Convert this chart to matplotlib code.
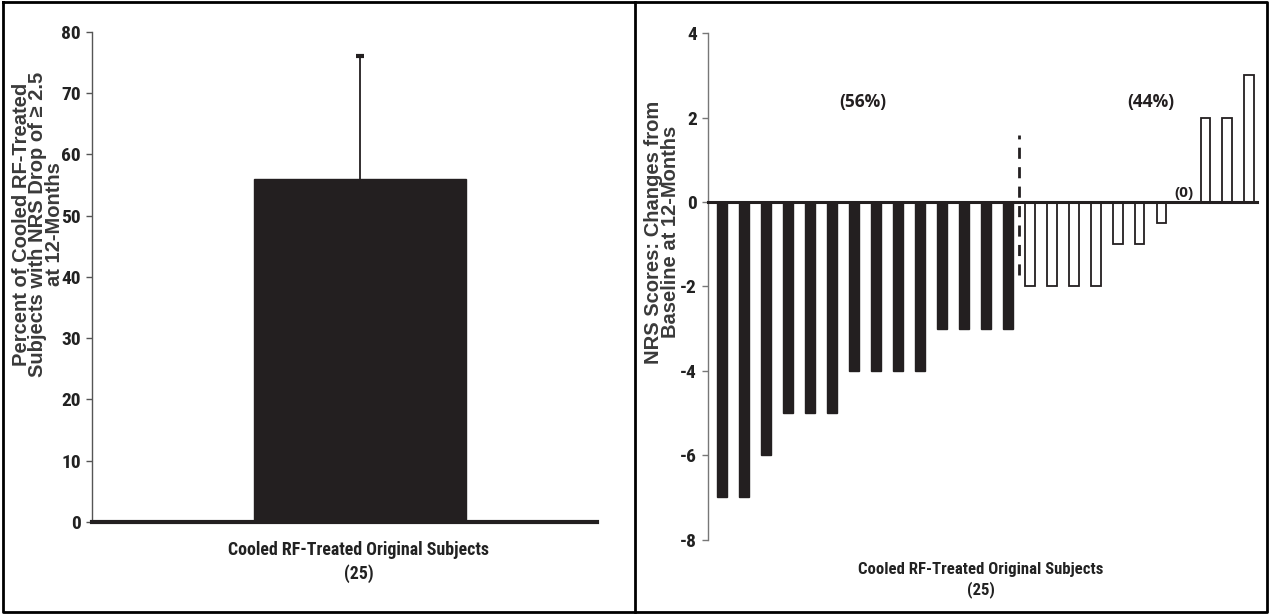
import matplotlib
matplotlib.use("Agg")
from matplotlib import pyplot as plt
from matplotlib import font_manager
from matplotlib.font_manager import FontProperties
from matplotlib.lines import Line2D

# left panel
pct_label = "Cooled RF-Treated Original Subjects\n(25)"
pct_value = 56
pct_err_upper = 20

# right panel: change in NRS per subject (sorted)
nrs_drop = [-7, -7, -6, -5, -5, -5, -4, -4, -4, -4, -3, -3, -3, -3]
nrs_rest = [-2, -2, -2, -2, -1, -1, -0.5, 0, 2, 2, 3]
left_ticks = [0, 10, 20, 30, 40, 50, 60, 70, 80]
right_ticks = [-8, -6, -4, -2, 0, 2, 4]

plt.rcParams["font.family"] = ["Liberation Sans", "DejaVu Sans"]


def narrow_file():
    # a condensed bold face if one is installed
    order = ["Liberation Sans Narrow", "Roboto Condensed", "Open Sans Condensed",
             "Noto Sans", "DejaVu Sans"]
    found = []
    for f in font_manager.fontManager.ttflist:
        narrow = ("Narrow" in f.name or "Condensed" in f.name
                  or f.stretch in ("condensed", "semi-condensed", "extra-condensed"))
        if narrow and f.weight in ("bold", 700, "700") and "Oblique" not in f.fname \
                and "Italic" not in f.fname:
            found.append(f)
    for name in order:
        for f in found:
            if f.name.startswith(name):
                return f.fname
    return found[0].fname if found else None


nfile = narrow_file()


def cond(size):
    if nfile:
        return FontProperties(fname=nfile, size=size)
    return FontProperties(family="Liberation Sans", weight="bold", size=size)


ylab_font = FontProperties(family="Liberation Sans", weight="bold", size=14.5)

fig = plt.figure(figsize=(12.7, 6.14), dpi=100)

# frames around the two panels
fig.add_artist(Line2D([0.002, 0.998, 0.998, 0.002, 0.002],
                      [0.997, 0.997, 0.003, 0.003, 0.997],
                      transform=fig.transFigure, color="black", lw=2))
fig.add_artist(Line2D([0.5, 0.5], [0.003, 0.997],
                      transform=fig.transFigure, color="black", lw=2))

# ---- left
ax1 = fig.add_axes([0.0724, 0.150, 0.398, 0.798])
ax1.bar([0.53], [pct_value], width=0.42, color="#231f20", edgecolor="#231f20")
eb = ax1.errorbar([0.53], [pct_value], yerr=[[0], [pct_err_upper]], fmt="none",
                  ecolor="#231f20", elinewidth=1.3, capsize=3, capthick=3)
for cap in eb[1]:
    if cap.get_ydata()[0] == pct_value:
        cap.set_visible(False)
ax1.set_xlim(0, 1)
ax1.set_ylim(0, 80)
ax1.set_yticks(left_ticks)
ax1.set_yticklabels([str(t) for t in left_ticks], fontproperties=cond(14), color="#222222")
ax1.set_xticks([])
for s in ["top", "right"]:
    ax1.spines[s].set_visible(False)
ax1.spines["left"].set_color("#555555")
ax1.spines["left"].set_linewidth(1)
ax1.spines["bottom"].set_color("#231f20")
ax1.spines["bottom"].set_linewidth(3)
ax1.tick_params(axis="y", direction="out", length=4, width=1, color="#555555", pad=4)

fig.text(38 / 1270, 1 - 224 / 614,
         "Percent of Cooled RF-Treated\nSubjects with NRS Drop of \u2265 2.5\nat 12-Months",
         rotation=90, ha="center", va="center", multialignment="center",
         fontproperties=ylab_font, color="#3a3a3a", linespacing=0.85)
xl1 = fig.text(359 / 1270, 1 - 562 / 614, pct_label, ha="center", va="center",
               fontproperties=cond(15), color="#222222", linespacing=1.35)

# ---- right
ax2 = fig.add_axes([0.5575, 0.121, 0.4325, 0.825])
n1 = len(nrs_drop)
x_drop = list(range(n1))
x_rest = list(range(n1, n1 + len(nrs_rest)))
ax2.bar(x_drop, nrs_drop, width=0.45, color="#231f20", edgecolor="#231f20", lw=1)
ax2.bar(x_rest, nrs_rest, width=0.45, color="white", edgecolor="#231f20", lw=1.3)
ax2.set_xlim(-0.64, 24.36)
ax2.set_ylim(-8, 4)
ax2.set_yticks(right_ticks)
ax2.set_yticklabels([str(t) for t in right_ticks], fontproperties=cond(14), color="#222222")
ax2.set_xticks([])
for s in ["top", "right"]:
    ax2.spines[s].set_visible(False)
ax2.spines["left"].set_color("#777777")
ax2.spines["left"].set_linewidth(1)
ax2.spines["bottom"].set_position(("data", 0))
ax2.spines["bottom"].set_color("#231f20")
ax2.spines["bottom"].set_linewidth(2.2)
ax2.spines["bottom"].set_zorder(3)
ax2.tick_params(axis="y", direction="out", length=4, width=1, color="#777777", pad=4)

fig.text(662 / 1270, 1 - 232 / 614, "NRS Scores: Changes from\nBaseline at 12-Months",
         rotation=90, ha="center", va="center", multialignment="center",
         fontproperties=ylab_font, color="#3a3a3a", linespacing=0.85)
xl2 = fig.text(981 / 1270, 1 - 580 / 614, pct_label, ha="center", va="center",
               fontproperties=cond(15), color="#222222", linespacing=1.35)

ax2.plot([n1 - 0.5, n1 - 0.5], [-1.72, 1.58], color="#231f20", lw=2,
         linestyle=(0, (4, 3)))
ax2.text(6.4, 2.38, "(56%)", ha="center", va="center", fontsize=12.5,
         fontweight="bold", color="#231f20", family=["Open Sans", "DejaVu Sans"])
ax2.text(19.5, 2.38, "(44%)", ha="center", va="center", fontsize=12.5,
         fontweight="bold", color="#231f20", family=["Open Sans", "DejaVu Sans"])
ax2.text(x_rest[7], 0.22, "(0)", ha="center", va="center", fontsize=11,
         fontweight="bold", color="#231f20", family=["Open Sans", "DejaVu Sans"])

# shrink the condensed x labels towards the widths seen in the original
renderer = fig.canvas.get_renderer()
for t, target in [(xl1, 262), (xl2, 245)]:
    w = t.get_window_extent(renderer).width
    fp = t.get_fontproperties()
    fp.set_size(min(15, fp.get_size() * target / w))
    t.set_fontproperties(fp)

fig.savefig("out.png", dpi=100)
